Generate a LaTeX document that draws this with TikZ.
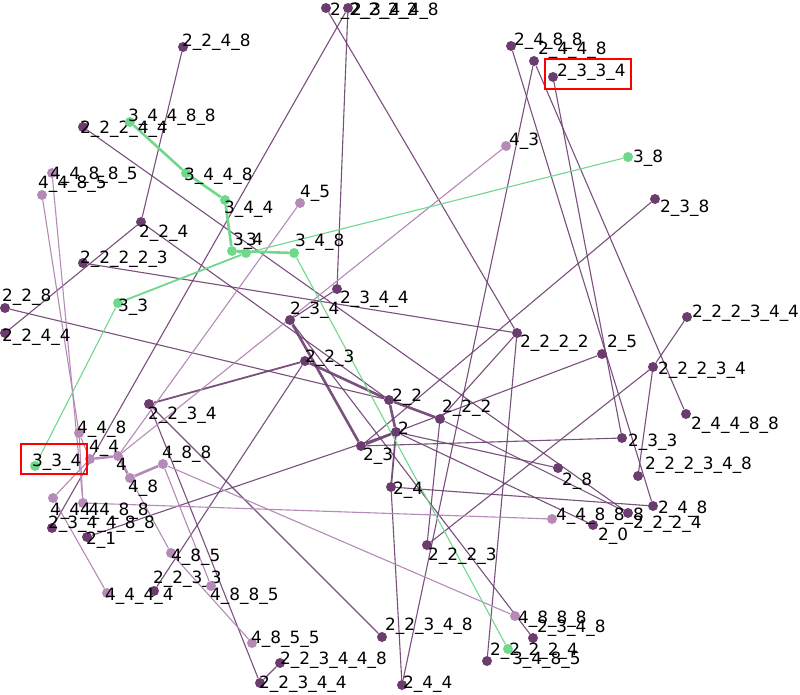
\documentclass[tikz,border=0pt]{standalone}
\usepackage{fontspec}
\setmainfont{DejaVu Sans}
\usetikzlibrary{backgrounds}

\definecolor{dkc}{HTML}{6B3D6E}
\definecolor{ltc}{HTML}{B58AB7}
\definecolor{grc}{HTML}{6FD98B}

\begin{document}
\begin{tikzpicture}[x=1pt, y=-1pt,
  dk/.style={circle, fill=dkc, inner sep=0pt, minimum size=10pt},
  lt/.style={circle, fill=ltc, inner sep=0pt, minimum size=10pt},
  gr/.style={circle, fill=grc, inner sep=0pt, minimum size=10pt},
  lab/.style={anchor=base west, inner sep=0pt, font=\fontsize{16.9}{20}\selectfont},
  ed/.style={draw=dkc, opacity=0.9, line width=1.1pt},
  el/.style={draw=ltc, line width=1.1pt},
  eg/.style={draw=grc, line width=1.1pt},
  mid/.style={line width=1.8pt},
  thk/.style={line width=2.6pt}]
  \useasboundingbox (0,0) rectangle (800,695);

  % 2 tree
  \node[dk] (v2) at (396,432) {};           \node[lab] (l2) at (398,434) {2};
  \node[dk] (v22) at (389,400) {};          \node[lab] (l22) at (392,401) {2\_2};
  \node[dk] (v23) at (361,446) {};          \node[lab] (l23) at (363,460) {2\_3};
  \node[dk] (v24) at (391,487) {};          \node[lab] (l24) at (393,494) {2\_4};
  \node[dk] (v25) at (602,354) {};          \node[lab] (l25) at (607,347) {2\_5};
  \node[dk] (v28) at (558,468) {};          \node[lab] (l28) at (562,485) {2\_8};
  \node[dk] (v20) at (593,525) {};          \node[lab] (l20) at (598,540) {2\_0};
  \node[dk] (v21) at (87,537) {};           \node[lab] (l21) at (86,544) {2\_1};
  \node[dk] (v222) at (440,419) {};         \node[lab] (l222) at (442,412) {2\_2\_2};
  \node[dk] (v223) at (305,361) {};         \node[lab] (l223) at (305,362) {2\_2\_3};
  \node[dk] (v224) at (141,222) {};         \node[lab] (l224) at (139,237) {2\_2\_4};
  \node[dk] (v228) at (5,308) {};           \node[lab] (l228) at (2,301) {2\_2\_8};
  \node[dk] (v233) at (622,438) {};         \node[lab] (l233) at (628,446) {2\_3\_3};
  \node[dk] (v234) at (290,320) {};         \node[lab] (l234) at (290,314) {2\_3\_4};
  \node[dk] (v238) at (655,199) {};         \node[lab] (l238) at (660,212) {2\_3\_8};
  \node[dk] (v244) at (402,685) {};         \node[lab] (l244) at (403,688) {2\_4\_4};
  \node[dk] (v248) at (653,506) {};         \node[lab] (l248) at (658,513) {2\_4\_8};
  \node[dk] (v2222) at (517,333) {};        \node[lab] (l2222) at (520,347) {2\_2\_2\_2};
  \node[dk] (v2223) at (427,545) {};        \node[lab] (l2223) at (428,560) {2\_2\_2\_3};
  \node[dk] (v2224) at (628,513) {};        \node[lab] (l2224) at (633,528) {2\_2\_2\_4};
  \node[dk] (v2233) at (154,591) {};        \node[lab] (l2233) at (153,583) {2\_2\_3\_3};
  \node[dk] (v2234) at (149,404) {};        \node[lab] (l2234) at (148,419) {2\_2\_3\_4};
  \node[dk] (v2244) at (5,333) {};          \node[lab] (l2244) at (2,341) {2\_2\_4\_4};
  \node[dk] (v2248) at (183,47) {};         \node[lab] (l2248) at (182,47) {2\_2\_4\_8};
  \node[dk] (v2334) at (553,77) {};         \node[lab] (l2334) at (557,77) {2\_3\_3\_4};
  \node[dk] (v2344) at (337,289) {};        \node[lab] (l2344) at (340,303) {2\_3\_4\_4};
  \node[dk] (v2348) at (533,638) {};        \node[lab] (l2348) at (537,632) {2\_3\_4\_8};
  \node[dk] (v2448) at (534,61) {};         \node[lab] (l2448) at (538,55) {2\_4\_4\_8};
  \node[dk] (v2488) at (511,46) {};         \node[lab] (l2488) at (514,46) {2\_4\_8\_8};
  \node[dk] (v22222) at (326,8) {};         \node[lab] (l22222) at (330,16) {2\_2\_2\_2\_2};
  \node[dk] (v22223) at (83,263) {};        \node[lab] (l22223) at (80,263) {2\_2\_2\_2\_3};
  \node[dk] (v22224) at (487,661) {};       \node[lab] (l22224) at (490,655) {2\_2\_2\_2\_4};
  \node[dk] (v22234) at (653,367) {};       \node[lab] (l22234) at (658,374) {2\_2\_2\_3\_4};
  \node[dk] (v22244) at (83,127) {};        \node[lab] (l22244) at (80,134) {2\_2\_2\_4\_4};
  \node[dk] (v22344) at (260,683) {};       \node[lab] (l22344) at (259,688) {2\_2\_3\_4\_4};
  \node[dk] (v22348) at (382,637) {};       \node[lab] (l22348) at (385,630) {2\_2\_3\_4\_8};
  \node[dk] (v23448) at (348,8) {};         \node[lab] (l23448) at (351,16) {2\_3\_4\_4\_8};
  \node[dk] (v24488) at (686,414) {};       \node[lab] (l24488) at (691,429) {2\_4\_4\_8\_8};
  \node[dk] (v222344) at (687,317) {};      \node[lab] (l222344) at (692,317) {2\_2\_2\_3\_4\_4};
  \node[dk] (v222348) at (638,476) {};      \node[lab] (l222348) at (645,469) {2\_2\_2\_3\_4\_8};
  \node[dk] (v223448) at (280,663) {};      \node[lab] (l223448) at (280,664) {2\_2\_3\_4\_4\_8};
  \node[dk] (v234488) at (52,528) {};       \node[lab] (l234488) at (48,528) {2\_3\_4\_4\_8\_8};

  % 4 tree
  \node[lt] (v4) at (118,456) {};           \node[lab] (l4) at (116,470) {4};
  \node[lt] (v43) at (506,146) {};          \node[lab] (l43) at (509,146) {4\_3};
  \node[lt] (v44) at (90,459) {};           \node[lab] (l44) at (89,452) {4\_4};
  \node[lt] (v45) at (300,203) {};          \node[lab] (l45) at (300,197) {4\_5};
  \node[lt] (v48) at (130,478) {};          \node[lab] (l48) at (128,492) {4\_8};
  \node[lt] (v444) at (53,498) {};          \node[lab] (l444) at (50,515) {4\_4\_4};
  \node[lt] (v448) at (79,433) {};          \node[lab] (l448) at (77,433) {4\_4\_8};
  \node[lt] (v485) at (171,553) {};         \node[lab] (l485) at (171,561) {4\_8\_5};
  \node[lt] (v488) at (163,464) {};         \node[lab] (l488) at (162,458) {4\_8\_8};
  \node[lt] (v4444) at (107,593) {};        \node[lab] (l4444) at (105,600) {4\_4\_4\_4};
  \node[lt] (v4485) at (42,195) {};         \node[lab] (l4485) at (38,189) {4\_4\_8\_5};
  \node[lt] (v4488) at (83,503) {};         \node[lab] (l4488) at (80,515) {4\_4\_8\_8};
  \node[lt] (v4885) at (211,586) {};        \node[lab] (l4885) at (210,600) {4\_8\_8\_5};
  \node[lt] (v4888) at (515,616) {};        \node[lab] (l4888) at (518,623) {4\_8\_8\_8};
  \node[lt] (v4855) at (252,643) {};        \node[lab] (l4855) at (251,643) {4\_8\_5\_5};
  \node[lt] (v44885) at (52,173) {};        \node[lab] (l44885) at (50,180) {4\_4\_8\_8\_5};
  \node[lt] (v44888) at (552,519) {};       \node[lab] (l44888) at (556,520) {4\_4\_8\_8\_8};

  % 3 tree
  \node[gr] (v3) at (246,253) {};           \node[lab] (l3) at (246,245) {3};
  \node[gr] (v33) at (118,303) {};          \node[lab] (l33) at (118,311) {3\_3};
  \node[gr] (v34) at (232,251) {};          \node[lab] (l34) at (233,245) {3\_4};
  \node[gr] (v38) at (628,157) {};          \node[lab] (l38) at (633,163) {3\_8};
  \node[gr] (v334) at (35,466) {};          \node[lab] (l334) at (32,466) {3\_3\_4};
  \node[gr] (v344) at (225,200) {};         \node[lab] (l344) at (224,214) {3\_4\_4};
  \node[gr] (v348) at (294,253) {};         \node[lab] (l348) at (295,246) {3\_4\_8};
  \node[gr] (v3448) at (186,173) {};        \node[lab] (l3448) at (184,181) {3\_4\_4\_8};
  \node[gr] (v3485) at (508,649) {};        \node[lab] (l3485) at (512,664) {3\_4\_8\_5};
  \node[gr] (v34488) at (130,122) {};       \node[lab] (l34488) at (128,122) {3\_4\_4\_8\_8};

  \begin{pgfonlayer}{background}
    \draw[ed, thk] (v22)--(v2);  \draw[ed, thk] (v23)--(v2);  \draw[ed, mid] (v24)--(v2);
    \draw[ed] (v25)--(v2);  \draw[ed] (v28)--(v2);  \draw[ed] (v20)--(v2);  \draw[ed] (v21)--(v2);
    \draw[ed, thk] (v222)--(v22);  \draw[ed, thk] (v223)--(v22);
    \draw[ed] (v224)--(v22);  \draw[ed] (v228)--(v22);
    \draw[ed] (v233)--(v23);  \draw[ed, thk] (v234)--(v23);  \draw[ed] (v238)--(v23);
    \draw[ed] (v244)--(v24);  \draw[ed] (v248)--(v24);
    \draw[ed] (v2222)--(v222);  \draw[ed] (v2223)--(v222);  \draw[ed] (v2224)--(v222);
    \draw[ed] (v2233)--(v223);  \draw[ed, mid] (v2234)--(v223);
    \draw[ed] (v2244)--(v224);  \draw[ed] (v2248)--(v224);
    \draw[ed] (v2334)--(v233);
    \draw[ed] (v2344)--(v234);  \draw[ed] (v2348)--(v234);
    \draw[ed] (v2448)--(v244);  \draw[ed] (v2488)--(v248);
    \draw[ed] (v22222)--(v2222);  \draw[ed] (v22223)--(v2222);  \draw[ed] (v22224)--(v2222);
    \draw[ed] (v22234)--(v2223);  \draw[ed] (v22244)--(v2224);
    \draw[ed] (v22344)--(v2234);  \draw[ed] (v22348)--(v2234);
    \draw[ed] (v23448)--(v2344);  \draw[ed] (v24488)--(v2448);
    \draw[ed] (v222344)--(v22234);  \draw[ed] (v222348)--(v22234);
    \draw[ed] (v223448)--(v22344);  \draw[ed] (v234488)--(v23448);

    \draw[el, thk] (v44)--(v4);  \draw[el, thk] (v48)--(v4);
    \draw[el] (v43)--(v4);  \draw[el] (v45)--(v4);
    \draw[el] (v444)--(v44);  \draw[el] (v448)--(v44);
    \draw[el] (v485)--(v48);  \draw[el, thk] (v488)--(v48);
    \draw[el] (v4444)--(v444);  \draw[el] (v4485)--(v448);  \draw[el] (v4488)--(v448);
    \draw[el] (v4885)--(v488);  \draw[el] (v4888)--(v488);  \draw[el] (v4855)--(v485);
    \draw[el] (v44885)--(v4488);  \draw[el] (v44888)--(v4488);

    \draw[eg, thk] (v34)--(v3);  \draw[eg, mid] (v33)--(v3);  \draw[eg] (v38)--(v3);
    \draw[eg, thk] (v344)--(v34);  \draw[eg, thk] (v348)--(v34);
    \draw[eg] (v334)--(v33);
    \draw[eg, thk] (v3448)--(v344);  \draw[eg] (v3485)--(v348);
    \draw[eg, thk] (v34488)--(v3448);
  \end{pgfonlayer}

  % boxes
  \draw[red, line width=1.8pt] (21,444) rectangle (87,474);
  \draw[red, line width=1.8pt] (545,59) rectangle (631,89);
\end{tikzpicture}
\end{document}
